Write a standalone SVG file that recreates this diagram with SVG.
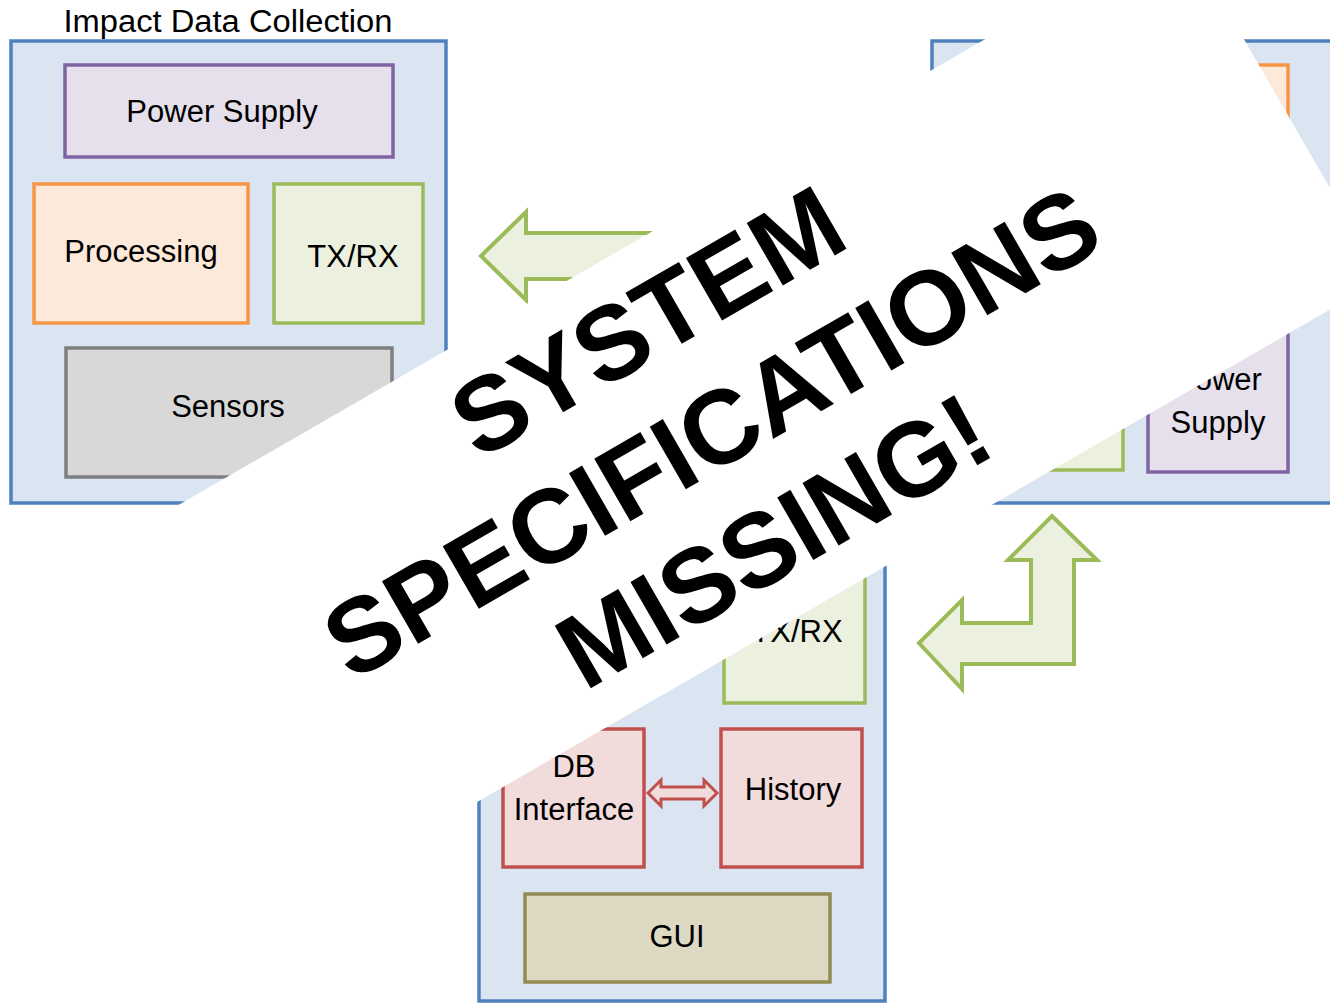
<svg xmlns="http://www.w3.org/2000/svg" width="1330" height="1004" viewBox="0 0 1330 1004">
<style>
.cont{fill:#dbe5f1;stroke:#4f81bd;stroke-width:3.5}
.box{stroke-width:3.5}
.purple{fill:#e5e0ec;stroke:#8064a2}
.orange{fill:#fde9d9;stroke:#f79646}
.green{fill:#ebf1de;stroke:#9bbb59}
.gray{fill:#d8d8d8;stroke:#7f7f7f}
.red{fill:#f2dcdb;stroke:#c0504d}
.olive{fill:#ddd9c3;stroke:#948a54}
.lbl{font-family:"Liberation Sans",Arial,sans-serif;font-size:31px;fill:#000;text-anchor:middle}
.garrow{fill:#ebf1de;stroke:#9bbb59;stroke-width:4;stroke-linejoin:miter}
.rarrow{fill:#f2dcdb;stroke:#c0504d;stroke-width:3}
.big{font-family:"Liberation Sans",Arial,sans-serif;font-weight:bold;font-size:105px;fill:#000;text-anchor:middle}
</style>
<rect width="1330" height="1004" fill="#fff"/>

<g id="impact-data-collection">
<text class="lbl" x="228" y="32" font-size="32" textLength="329" lengthAdjust="spacingAndGlyphs">Impact Data Collection</text>
<rect class="cont" x="11" y="41" width="435" height="462"/>
</g>
<g id="power-supply-1">
<rect class="box purple" x="65" y="65" width="328" height="92"/>
<text class="lbl" x="222" y="122">Power Supply</text>
</g>
<g id="processing-1">
<rect class="box orange" x="34" y="184" width="214" height="139"/>
<text class="lbl" x="141" y="262">Processing</text>
</g>
<g id="txrx-1">
<rect class="box green" x="274" y="184" width="149" height="139"/>
<text class="lbl" x="353" y="267">TX/RX</text>
</g>
<g id="sensors">
<rect class="box gray" x="66" y="348" width="326" height="129"/>
<text class="lbl" x="228" y="417">Sensors</text>
</g>

<g id="right-container">
<rect class="cont" x="932" y="41" width="435" height="462"/>
</g>
<g id="right-top-box">
<rect class="box orange" x="960" y="65" width="328" height="92"/>
</g>
<g id="right-green-box">
<rect class="box green" x="974" y="333" width="149" height="137"/>
</g>
<g id="power-supply-2">
<rect class="box purple" x="1148" y="333" width="140" height="139"/>
<text class="lbl" x="1218" y="390">Power</text>
<text class="lbl" x="1218" y="433">Supply</text>
</g>

<g id="bottom-container">
<rect class="cont" x="479" y="540" width="406" height="461"/>
</g>
<g id="txrx-2">
<rect class="box green" x="724" y="563" width="141" height="140"/>
<text class="lbl" x="797" y="642">TX/RX</text>
</g>
<g id="db-interface">
<rect class="box red" x="503" y="729" width="141" height="138"/>
<text class="lbl" x="574" y="777">DB</text>
<text class="lbl" x="574" y="820">Interface</text>
</g>
<g id="history">
<rect class="box red" x="721" y="729" width="141" height="138"/>
<text class="lbl" x="793" y="800">History</text>
</g>
<g id="gui">
<rect class="box olive" x="525" y="894" width="305" height="88"/>
<text class="lbl" x="677" y="947">GUI</text>
</g>

<g id="connectors">
<polygon class="garrow" points="481,256 526,212 526,233 880,233 880,279 526,279 526,300"/>
<polygon class="garrow" points="1052,516 1097,560 1074,560 1074,664 962,664 962,689 919,643 962,600 962,623 1031,623 1031,560 1008,560"/>
<polygon class="rarrow" points="648,793 661,780 661,787 704,787 704,780 717,793 704,806 704,799 661,799 661,806"/>
</g>

<g id="banner" transform="translate(729.5,464) rotate(-30)">
<rect x="-658" y="-240" width="1316" height="406.5" fill="#fff"/>
<text class="big" x="0" y="-128">SYSTEM</text>
<text class="big" x="0" y="0">SPECIFICATIONS</text>
<text class="big" x="0" y="125">MISSING!</text>
</g>
</svg>
